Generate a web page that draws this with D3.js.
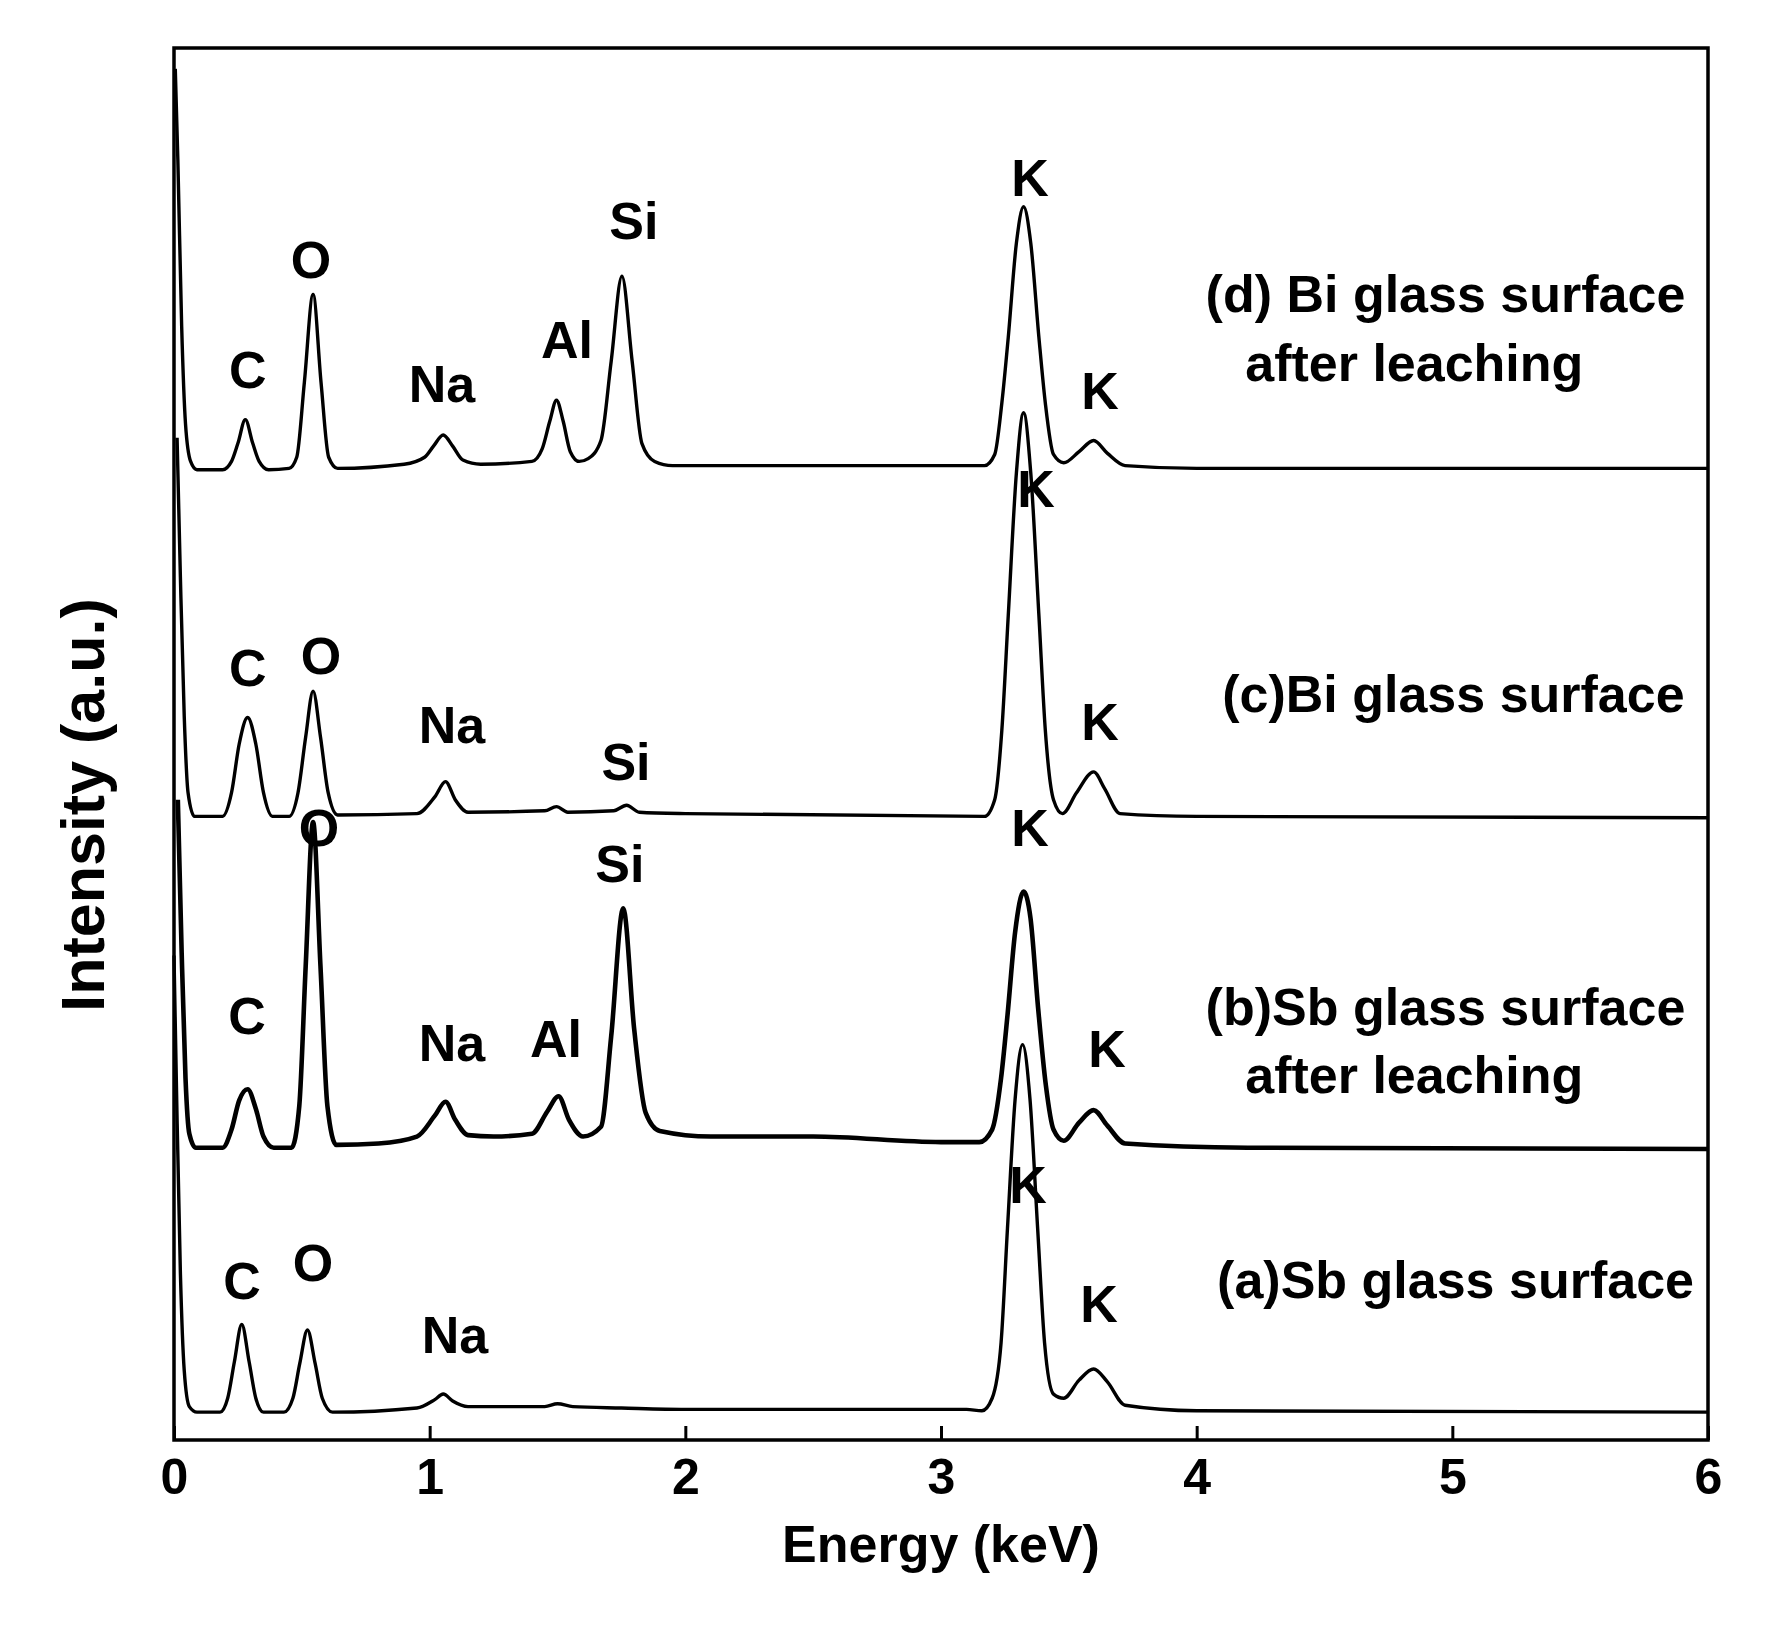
<!DOCTYPE html>
<html>
<head>
<meta charset="utf-8">
<script src="https://cdn.jsdelivr.net/npm/d3@7"></script>
<style>
  body { margin: 0; background: #fff; }
  text { font-family: "Liberation Sans", Arial, sans-serif; font-weight: bold; fill: #000; }
</style>
</head>
<body>
<div id="chart"></div>
<script>
// spectra: [energy keV, intensity a.u. incl. stacking offset]
var specD = [
  [0.005, 98.5], [0.015, 92], [0.03, 80], [0.045, 73], [0.065, 70.3], [0.09, 69.7],
  [0.19, 69.7], [0.225, 70.3], [0.25, 71.6], [0.279, 73.3], [0.308, 71.6], [0.333, 70.3], [0.37, 69.7],
  [0.45, 69.8], [0.48, 70.6], [0.51, 76], [0.544, 82.3], [0.575, 76], [0.605, 70.6], [0.64, 69.8],
  [0.9, 70.1], [0.98, 70.6], [1.015, 71.4], [1.053, 72.2], [1.09, 71.4], [1.13, 70.4], [1.2, 70.1],
  [1.4, 70.3], [1.44, 71.2], [1.47, 73.2], [1.496, 74.7], [1.522, 73.2], [1.55, 71.0], [1.585, 70.3], [1.62, 70.5],
  [1.67, 71.8], [1.71, 77.5], [1.752, 83.6], [1.792, 77.5], [1.83, 71.6], [1.88, 70.3], [1.95, 70.0],
  [3.17, 70.0], [3.21, 70.8], [3.238, 74.5], [3.263, 79.2], [3.295, 86], [3.323, 88.6], [3.351, 86],
  [3.383, 79.2], [3.408, 74.5], [3.44, 70.8], [3.48, 70.2],
  [3.54, 71.0], [3.597, 71.8], [3.65, 70.9], [3.72, 70.0], [4.0, 69.8], [6.0, 69.8]
];

var specC = [
  [0.012, 72], [0.025, 62], [0.04, 52], [0.055, 46.5], [0.08, 44.8],
  [0.19, 44.8], [0.225, 46.5], [0.255, 50], [0.288, 51.9], [0.32, 50], [0.35, 46.5], [0.385, 44.8],
  [0.45, 44.8], [0.485, 46.5], [0.515, 50.5], [0.544, 53.8], [0.573, 50.5], [0.603, 46.5], [0.64, 44.9],
  [0.95, 45.0], [1.02, 46.2], [1.062, 47.3], [1.1, 46.0], [1.15, 45.1],
  [1.45, 45.2], [1.496, 45.5], [1.54, 45.1], [1.72, 45.2], [1.77, 45.6], [1.82, 45.1], [2.0, 45.0],
  [3.17, 44.8], [3.21, 46], [3.238, 51], [3.263, 59.2], [3.295, 69.5], [3.323, 73.8], [3.351, 69.5],
  [3.383, 59.2], [3.408, 51], [3.44, 46], [3.475, 45],
  [3.53, 46.5], [3.597, 48.0], [3.64, 46.8], [3.7, 45.0], [4.0, 44.8], [6.0, 44.7]
];

var specB = [
  [0.015, 46], [0.03, 35], [0.045, 26], [0.06, 22], [0.085, 21],
  [0.19, 21.0], [0.225, 22.3], [0.255, 24.4], [0.288, 25.2], [0.32, 23.8], [0.35, 21.8], [0.39, 21.0],
  [0.46, 21.0], [0.49, 24], [0.515, 34], [0.544, 44.4], [0.573, 34], [0.6, 24], [0.635, 21.2],
  [0.8, 21.3], [0.95, 21.8], [1.02, 23.3], [1.062, 24.3], [1.1, 23], [1.15, 21.9],
  [1.25, 21.8], [1.4, 22.0], [1.46, 23.6], [1.504, 24.7], [1.545, 23], [1.6, 21.8],
  [1.67, 22.5], [1.71, 29], [1.757, 38.2], [1.8, 29.5], [1.845, 23.5], [1.9, 22.2],
  [2.1, 21.8], [2.5, 21.8], [3.0, 21.4], [3.15, 21.4],
  [3.2, 22.3], [3.235, 26], [3.26, 30.5], [3.29, 36.5], [3.323, 39.4], [3.35, 37.5],
  [3.38, 31], [3.41, 25.5], [3.44, 22.3], [3.48, 21.5],
  [3.54, 22.8], [3.597, 23.7], [3.65, 22.6], [3.72, 21.3], [4.2, 21.0], [6.0, 20.9]
];

var specA = [
  [0.0, 34.8], [0.01, 25], [0.025, 12], [0.04, 5], [0.06, 2.4], [0.09, 2.0],
  [0.18, 2.0], [0.21, 3.0], [0.236, 5.6], [0.265, 8.3], [0.294, 5.6], [0.32, 3.0], [0.35, 2.0],
  [0.43, 2.0], [0.465, 3.0], [0.492, 5.5], [0.522, 7.9], [0.552, 5.5], [0.58, 3.0], [0.62, 2.0],
  [0.95, 2.3], [1.02, 2.9], [1.053, 3.3], [1.09, 2.8], [1.15, 2.4],
  [1.45, 2.4], [1.5, 2.6], [1.56, 2.4], [1.75, 2.3], [2.0, 2.2], [3.1, 2.2],
  [3.16, 2.1], [3.2, 3.0], [3.235, 7], [3.26, 15.2], [3.29, 24.5], [3.319, 28.4], [3.348, 24.5],
  [3.378, 15.2], [3.405, 7], [3.44, 3.3], [3.48, 3.0],
  [3.54, 4.3], [3.597, 5.1], [3.65, 4.2], [3.72, 2.5], [4.0, 2.1], [6.0, 2.0]
];

var xTicks = [0, 1, 2, 3, 4, 5, 6];

// element labels: [text, energy, intensity]
var labelsD = [["C", 0.289, 75.6], ["O", 0.536, 83.5], ["Na", 1.048, 74.6], ["Al", 1.537, 77.7],
               ["Si", 1.799, 86.3], ["K", 3.348, 89.4], ["K", 3.622, 74.1]];
var labelsC = [["C", 0.289, 54.2], ["O", 0.575, 55.0], ["Na", 1.087, 50.1], ["Si", 1.768, 47.4],
               ["K", 3.372, 67.0], ["K", 3.622, 50.3]];
var labelsB = [["C", 0.286, 29.2], ["O", 0.567, 42.7], ["Na", 1.087, 27.2], ["Al", 1.494, 27.5],
               ["Si", 1.744, 40.1], ["K", 3.348, 42.7], ["K", 3.649, 26.8]];
var labelsA = [["C", 0.266, 10.1], ["O", 0.544, 11.4], ["Na", 1.099, 6.25], ["K", 3.34, 17.0],
               ["K", 3.618, 8.5]];

// sample captions: [text, energy, intensity]
var captions = [
  ["(d) Bi glass surface", 4.035, 81.0], ["after leaching", 4.19, 76.1],
  ["(c)Bi glass surface", 4.1, 52.3],
  ["(b)Sb glass surface", 4.035, 29.8], ["after leaching", 4.19, 24.9],
  ["(a)Sb glass surface", 4.08, 10.2]
];

var width = 1776;
var height = 1628;
var plotLeft = 174, plotRight = 1708, plotTop = 48, plotBottom = 1440;

var x = d3.scaleLinear().domain([0, 6]).range([plotLeft, plotRight]);
var y = d3.scaleLinear().domain([0, 100]).range([plotBottom, plotTop]);

var svg = d3.select("#chart")
    .append("svg")
    .attr("width", width)
    .attr("height", height);

var line = d3.line()
    .x(function(d) { return x(d[0]); })
    .y(function(d) { return y(d[1]); })
    .curve(d3.curveMonotoneX);

var series = [
  { data: specD, w: 3.4 },
  { data: specC, w: 3.4 },
  { data: specB, w: 4.6 },
  { data: specA, w: 3.4 }
];

svg.selectAll("path.spec")
    .data(series)
    .enter()
    .append("path")
    .attr("class", "spec")
    .attr("d", function(d) { return line(d.data); })
    .attr("fill", "none")
    .attr("stroke", "#000")
    .attr("stroke-width", function(d) { return d.w; })
    .attr("stroke-linejoin", "round");

// frame
svg.append("rect")
    .attr("x", plotLeft)
    .attr("y", plotTop)
    .attr("width", plotRight - plotLeft)
    .attr("height", plotBottom - plotTop)
    .attr("fill", "none")
    .attr("stroke", "#000")
    .attr("stroke-width", 3.5);

// x axis with inward ticks
var bottomAxis = d3.axisBottom(x)
    .tickValues(xTicks)
    .tickFormat(d3.format("d"))
    .tickSizeInner(-14)
    .tickSizeOuter(0)
    .tickPadding(18);

var gx = svg.append("g")
    .attr("transform", "translate(0," + plotBottom + ")")
    .call(bottomAxis);
gx.select(".domain").remove();
gx.selectAll("line").attr("stroke", "#000").attr("stroke-width", 3);
gx.selectAll("text")
    .attr("font-size", 50)
    .style("font-family", "'Liberation Sans', Arial, sans-serif")
    .style("font-weight", "bold")
    .attr("fill", "#000");

var allLabels = labelsD.concat(labelsC, labelsB, labelsA);
svg.selectAll("text.el")
    .data(allLabels)
    .enter()
    .append("text")
    .attr("class", "el")
    .attr("x", function(d) { return x(d[1]); })
    .attr("y", function(d) { return y(d[2]); })
    .attr("text-anchor", "middle")
    .attr("font-size", 52)
    .text(function(d) { return d[0]; });

svg.selectAll("text.cap")
    .data(captions)
    .enter()
    .append("text")
    .attr("class", "cap")
    .attr("x", function(d) { return x(d[1]); })
    .attr("y", function(d) { return y(d[2]); })
    .attr("font-size", 52)
    .text(function(d) { return d[0]; });

// axis titles
svg.append("text")
    .attr("x", 941)
    .attr("y", 1562)
    .attr("text-anchor", "middle")
    .attr("font-size", 52)
    .text("Energy (keV)");

svg.append("text")
    .attr("transform", "translate(104,805) rotate(-90)")
    .attr("text-anchor", "middle")
    .attr("font-size", 61)
    .text("Intensity (a.u.)");
</script>
</body>
</html>
